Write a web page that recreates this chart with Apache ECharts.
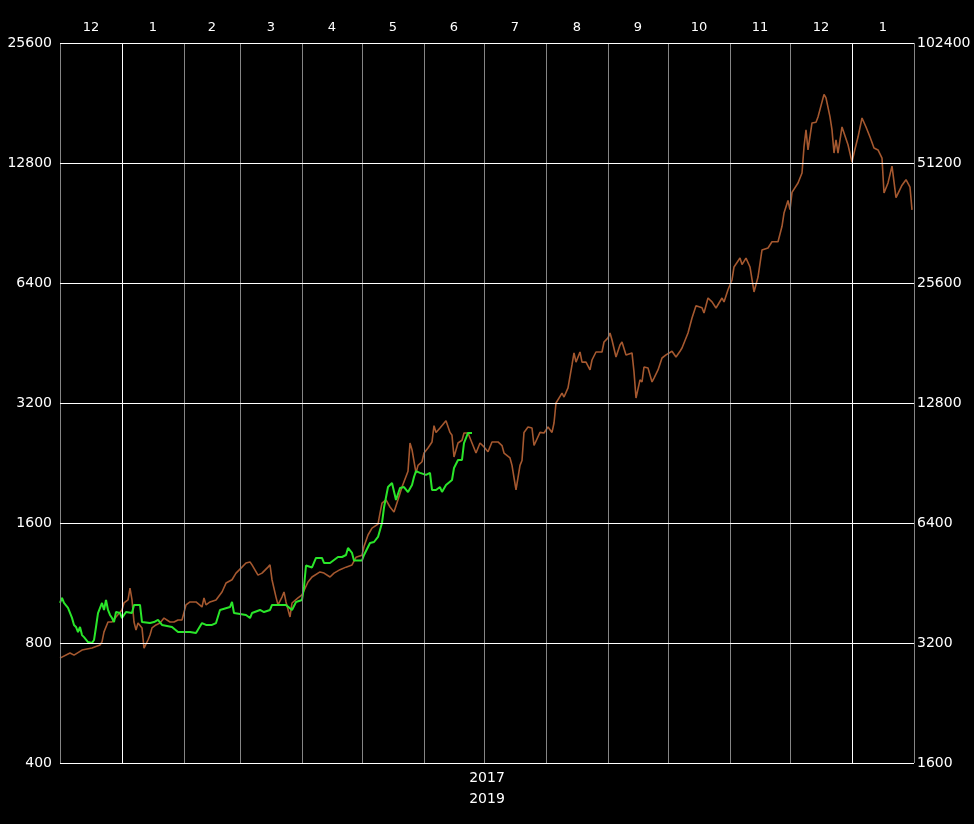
<!DOCTYPE html>
<html><head><meta charset="utf-8">
<script src="https://cdn.jsdelivr.net/npm/echarts@6/dist/echarts.min.js"></script>
<style>html,body{margin:0;padding:0;background:#000}#c{width:974px;height:824px}</style>
</head><body><div id="c"></div>
<script>
const DAY = 86400000;
const start2017 = Date.UTC(2016, 11, 1);
const end2017 = Date.UTC(2018, 1, 1);
const start2019 = Date.UTC(2018, 11, 1);
const end2019 = Date.UTC(2020, 1, 1);

const monthLabels = ['12','1','2','3','4','5','6','7','8','9','10','11','12','1'];
const leftTicks = [400, 800, 1600, 3200, 6400, 12800, 25600];
const rightTicks = [1600, 3200, 6400, 12800, 25600, 51200, 102400];

// 2017 series (left axis): days since 2016-12-01, price
const days2017 = [0,5,7,11,16,20,21,22,24,26,28,31,32,34,35,36,37,38,39,41,42,44,45,46,48,50,52,55,57,59,61,63,65,68,71,72,73,75,78,81,83,86,88,91,93,95,96,99,101,104,105,106,108,109,111,112,113,115,116,119,121,124,126,130,132,135,137,140,143,146,148,151,152,154,156,157,159,160,161,163,165,167,169,171,174,175,176,178,179,181,182,184,186,187,188,190,191,193,195,196,197,199,201,202,204,206,208,210,212,214,216,219,221,222,225,226,228,230,231,232,234,236,237,238,240,242,244,246,247,248,251,252,254,256,257,258,260,261,263,265,266,268,271,272,274,275,276,278,280,281,283,286,287,288,290,291,292,294,296,297,299,301,303,306,308,310,311,314,316,318,321,322,324,326,328,331,332,334,336,337,340,341,343,345,347,349,351,354,356,359,361,362,364,365,366,369,371,372,373,374,376,378,379,382,383,385,386,387,388,389,391,394,396,397,399,401,403,405,407,409,411,412,414,416,418,421,423,425,426];
const price2017 = [733,755,746,768,777,791,805,853,903,903,930,968,1008,1026,1099,1026,903,862,898,873,777,814,838,873,888,898,924,903,903,914,914,997,1014,1014,985,1038,997,1014,1026,1074,1131,1153,1198,1240,1270,1277,1256,1184,1198,1240,1256,1153,1043,997,1043,1074,1014,930,1008,1038,1056,1138,1171,1206,1198,1171,1198,1222,1240,1256,1312,1328,1396,1493,1554,1538,1589,1694,1795,1829,1755,1706,1829,1970,2158,2540,2444,2136,2232,2279,2397,2467,2555,2807,2700,2770,2786,2890,2700,2655,2342,2540,2580,2691,2691,2540,2397,2540,2483,2414,2555,2555,2503,2397,2330,2232,1937,2232,2296,2700,2786,2770,2503,2483,2700,2691,2786,2700,2851,3200,3389,3312,3491,3987,4273,4053,4296,4053,4053,3873,4102,4296,4296,4551,4660,4794,4606,4175,4474,4551,4224,4273,3830,3293,3657,3614,3939,3916,3614,3696,3873,4150,4224,4316,4175,4316,4396,4794,5229,5613,5550,5382,5870,5738,5539,5869,5738,6157,6512,7021,7392,7118,7392,7021,6077,6624,7745,7834,8122,8122,8880,9587,10308,9776,10798,11404,12084,14043,15500,13800,16128,16200,16700,19030,18640,16700,15500,13560,14640,13560,15760,14220,12870,13560,14870,16600,15760,14870,13960,13800,13170,10765,11408,12570,10480,11260,11620,11130,9760];

// 2019 series (right axis): days since 2018-12-01, price
const days2019 = [0,1,2,4,6,7,8,9,10,11,12,14,16,17,18,19,21,22,23,24,25,26,27,28,30,31,33,36,37,40,41,42,45,47,49,50,51,52,56,59,61,65,68,71,73,76,78,80,85,86,87,88,93,95,96,100,102,105,106,110,113,116,118,121,122,123,126,128,131,132,135,136,139,141,143,144,146,147,151,152,155,157,159,161,162,164,166,168,170,172,174,176,177,178,180,181,183,185,186,188,190,191,193,196,197,199,201,202,204,206];
const price2019 = [4032,4150,4032,3917,3700,3552,3510,3409,3510,3350,3310,3218,3200,3255,3510,3805,4032,3873,4102,3873,3762,3696,3612,3827,3805,3696,3827,3805,3987,3987,3612,3612,3591,3612,3657,3696,3552,3552,3510,3409,3409,3409,3389,3591,3552,3552,3591,3873,3939,4056,3805,3805,3762,3696,3805,3873,3827,3873,3987,3987,3987,3873,4056,4102,4423,5006,4950,5229,5229,5080,5080,5108,5259,5259,5320,5540,5382,5154,5154,5320,5702,5735,5906,6400,6997,7879,8063,7312,7834,7879,7655,7975,8350,8633,8550,8633,8450,8550,7745,7745,7879,7655,7975,8205,8794,9212,9212,10159,10764,10764];

const monthStarts = [];
for (let i = 0; i <= 14; i++) monthStarts.push(Date.UTC(2016, 11 + i, 1));
const monthMids = [];
for (let i = 0; i < 14; i++) monthMids.push((monthStarts[i] + monthStarts[i + 1]) / 2);
const yearStarts = [Date.UTC(2017, 0, 1), Date.UTC(2018, 0, 1)];

const s2017 = days2017.map((d, i) => [start2017 + d * DAY, price2017[i]]);
const s2019 = days2019.map((d, i) => [start2019 + d * DAY, price2019[i]]);

const FONT = 'DejaVu Sans';
const chart = echarts.init(document.getElementById('c'));

const vLines = monthStarts.filter(t => !yearStarts.includes(t)).map(t => ({ xAxis: t, lineStyle: { color: '#858585', width: 1, type: 'solid' } }))
  .concat(yearStarts.map(t => ({ xAxis: t, lineStyle: { color: '#ffffff', width: 1, type: 'solid' } })));
const hLines = leftTicks.map(v => ({ yAxis: v, lineStyle: { color: '#ffffff', width: 1, type: 'solid' } }));

chart.setOption({
  backgroundColor: '#000',
  animation: false,
  grid: { left: 60, right: 60, top: 43, bottom: 61 },
  xAxis: [
    { type: 'value', min: start2017, max: end2017, position: 'bottom',
      axisLine: { show: false }, axisTick: { show: false }, axisLabel: { show: false }, splitLine: { show: false },
      name: '2017', nameLocation: 'middle', nameGap: 8,
      nameTextStyle: { color: '#fff', fontFamily: FONT, fontSize: 14, verticalAlign: 'top' } },
    { type: 'value', min: start2019, max: end2019, position: 'bottom',
      axisLine: { show: false }, axisTick: { show: false }, axisLabel: { show: false }, splitLine: { show: false },
      name: '2019', nameLocation: 'middle', nameGap: 29,
      nameTextStyle: { color: '#fff', fontFamily: FONT, fontSize: 14, verticalAlign: 'top' } },
    { type: 'value', min: start2017, max: end2017, position: 'top',
      axisLine: { show: false }, axisTick: { show: false }, splitLine: { show: false },
      axisLabel: { show: true, customValues: monthMids, color: '#fff', fontFamily: FONT, fontSize: 13, margin: 9,
        formatter: (v) => { const i = monthMids.findIndex(m => Math.abs(m - v) < DAY); return i >= 0 ? monthLabels[i] : ''; } } }
  ],
  yAxis: [
    { type: 'log', logBase: 2, min: 400, max: 25600, position: 'left',
      axisLine: { show: false }, axisTick: { show: false }, splitLine: { show: false },
      axisLabel: { customValues: leftTicks, color: '#fff', fontFamily: FONT, fontSize: 14, margin: 8, formatter: v => String(Math.round(v)) } },
    { type: 'log', logBase: 2, min: 1600, max: 102400, position: 'right',
      axisLine: { show: false }, axisTick: { show: false }, splitLine: { show: false },
      axisLabel: { customValues: rightTicks, color: '#fff', fontFamily: FONT, fontSize: 14, margin: 3, formatter: v => String(Math.round(v)) } }
  ],
  series: [
    { type: 'line', name: 'grid', xAxisIndex: 0, yAxisIndex: 0, data: [], silent: true, z: 1,
      markLine: { silent: true, symbol: ['none', 'none'], label: { show: false }, animation: false,
        data: vLines.concat(hLines) } },
    { type: 'line', name: '2017', xAxisIndex: 0, yAxisIndex: 0, data: s2017, showSymbol: false, z: 3,
      lineStyle: { color: '#a5582f', width: 1.6 }, itemStyle: { color: '#a5582f' } },
    { type: 'line', name: '2019', xAxisIndex: 1, yAxisIndex: 1, data: s2019, showSymbol: false, z: 4,
      lineStyle: { color: '#2ae62a', width: 2 }, itemStyle: { color: '#2ae62a' } }
  ]
});
</script></body></html>
